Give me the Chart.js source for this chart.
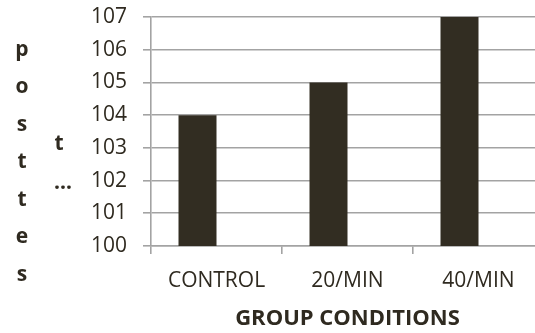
<!DOCTYPE html>
<html>
<head>
<meta charset="utf-8">
<script src="https://cdn.jsdelivr.net/npm/chart.js@4/dist/chart.umd.min.js"></script>
<style>
  html, body { margin: 0; padding: 0; background: #fff; overflow: hidden; }
  #wrap { width: 546px; height: 333px; position: relative; }
</style>
</head>
<body>
<div id="wrap"><canvas id="myChart"></canvas></div>
<script>
var categories = ["CONTROL", "20/MIN", "40/MIN"];
var posttest = [104, 105, 107];
var yTicks = [100, 101, 102, 103, 104, 105, 106, 107];
var yTitleCol1 = ["p", "o", "s", "t", "t", "e", "s"];
var yTitleCol2 = ["t", "\u2026"];
var xTitle = "GROUP CONDITIONS";

var txt = "#2f2a20";
var grid = "#a3a3a3";

// stacked letters of the y axis title, as the reference shows them
var yTitlePlugin = {
    id: "yTitle",
    afterDraw: function (chart) {
        var ctx = chart.ctx;
        ctx.save();
        ctx.fillStyle = txt;
        ctx.font = "bold 21px 'Open Sans'";
        ctx.textAlign = "center";
        ctx.textBaseline = "middle";
        yTitleCol1.forEach(function (c, i) {
            ctx.fillText(c, 22, 50 + i * 37.5);
        });
        ctx.fillText(yTitleCol2[0], 59, 144);
        ctx.fillText(yTitleCol2[1], 63, 183);
        ctx.restore();
    }
};

var ctx = document.getElementById("myChart").getContext("2d");
var myChart = new Chart(ctx, {
    type: "bar",
    data: {
        labels: categories,
        datasets: [{
            label: "posttest",
            data: posttest,
            backgroundColor: "#322d22",
            borderWidth: 0
        }, {
            label: "",
            data: [null, null, null],
            backgroundColor: "#322d22"
        }]
    },
    options: {
        responsive: true,
        maintainAspectRatio: false,
        animation: false,
        categoryPercentage: 0.58,
        barPercentage: 1,
        layout: { padding: { top: 17, right: 2, left: 0, bottom: 0 } },
        plugins: { legend: { display: false }, tooltip: { enabled: false } },
        scales: {
            y: {
                min: 100,
                max: 107,
                afterFit: function (s) {
                    s.width = 151;
                    s.paddingTop = 0;
                    s.paddingBottom = 0;
                },
                afterBuildTicks: function (s) {
                    s.ticks = yTicks.map(function (v) { return { value: v }; });
                },
                ticks: { color: txt, font: { family: "'Open Sans'", size: 21 }, padding: 16 },
                grid: { color: grid, lineWidth: 1.6, tickLength: 8 },
                border: { color: grid, width: 1.6 }
            },
            x: {
                afterFit: function (s) { s.height = 87; },
                ticks: { color: txt, font: { family: "'Open Sans'", size: 21 }, padding: 14, maxRotation: 0 },
                grid: { color: grid, lineWidth: 1.6, tickLength: 8, drawOnChartArea: false, offset: true },
                border: { color: grid, width: 1.6 },
                title: {
                    display: true,
                    text: xTitle,
                    color: txt,
                    font: { family: "'Open Sans'", size: 22, weight: "bold" },
                    padding: { top: 0, bottom: 1 }
                }
            }
        }
    },
    plugins: [yTitlePlugin]
});
</script>
</body>
</html>
